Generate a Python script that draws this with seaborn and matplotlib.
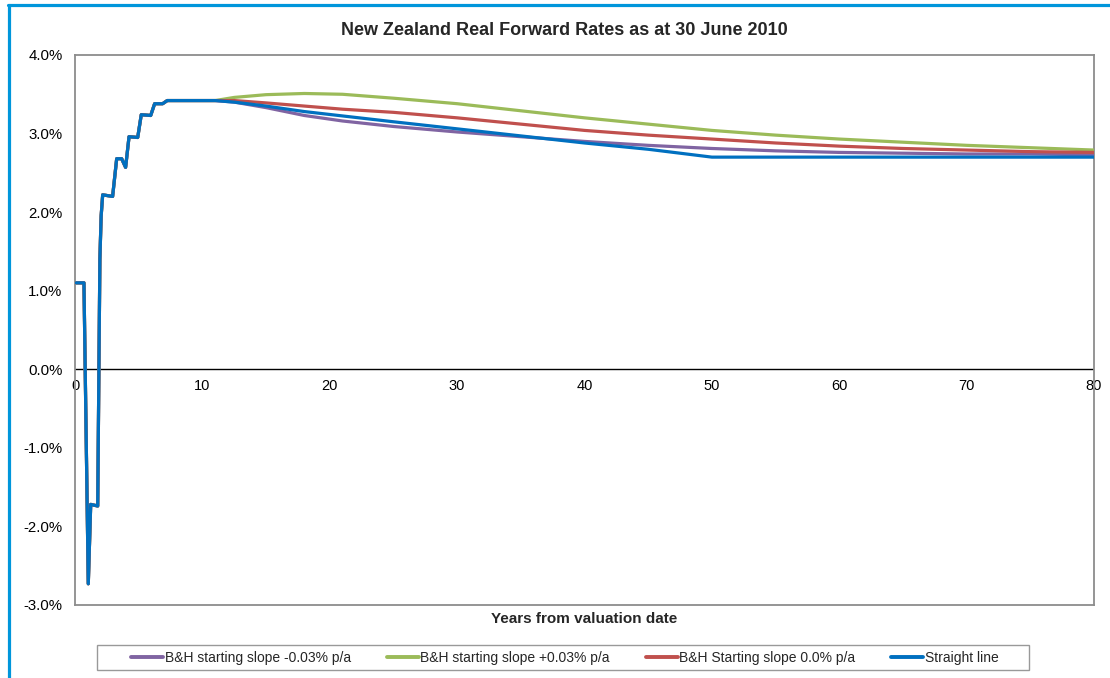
import numpy as np
import seaborn as sns
import pandas as pd
import matplotlib.pyplot as plt
from matplotlib.lines import Line2D
from matplotlib.patches import Rectangle
from matplotlib.ticker import FuncFormatter

# short end, shared by all four curves (years, % p.a.)
early_years = [0.1, 0.7, 1.04, 1.23, 1.78, 1.95, 2.05, 2.17, 2.95, 3.27, 3.66, 3.97,
               4.24, 4.92, 5.2, 5.94, 6.25, 6.88, 7.24]
early_rates = [1.10, 1.10, -2.73, -1.72, -1.74, 1.40, 1.95, 2.22, 2.20, 2.68, 2.68, 2.57,
               2.96, 2.95, 3.24, 3.23, 3.38, 3.38, 3.42]

# long end of each extrapolation
bh_years = [11, 12.5, 15, 18, 21, 25, 30, 35, 40, 45, 50, 55, 60, 65, 70, 75, 80]
bh_minus = [3.42, 3.40, 3.33, 3.23, 3.16, 3.09, 3.02, 2.96, 2.90, 2.85, 2.81, 2.78, 2.76, 2.75, 2.74, 2.74, 2.73]
bh_plus = [3.42, 3.46, 3.495, 3.51, 3.50, 3.45, 3.38, 3.29, 3.20, 3.12, 3.04, 2.98, 2.93, 2.89, 2.85, 2.82, 2.79]
bh_zero = [3.42, 3.42, 3.39, 3.35, 3.31, 3.27, 3.20, 3.12, 3.04, 2.98, 2.93, 2.88, 2.84, 2.81, 2.79, 2.77, 2.76]
sl_years = [11, 12.5, 15, 18, 25, 30, 35, 40, 45, 50, 80]
straight = [3.42, 3.40, 3.35, 3.28, 3.15, 3.06, 2.97, 2.88, 2.80, 2.70, 2.70]

series_names = ["B&H starting slope -0.03% p/a", "B&H starting slope +0.03% p/a",
                "B&H Starting slope 0.0% p/a", "Straight line"]
colors = ["#8064A2", "#9BBB59", "#C0504D", "#0070C0"]
x_ticks = [0, 10, 20, 30, 40, 50, 60, 70, 80]
y_ticks = [-3, -2, -1, 0, 1, 2, 3, 4]

frames = []
for name, xs, ys in [(series_names[0], bh_years, bh_minus),
                     (series_names[1], bh_years, bh_plus),
                     (series_names[2], bh_years, bh_zero),
                     (series_names[3], sl_years, straight)]:
    frames.append(pd.DataFrame({"years": early_years + xs,
                                "rate": early_rates + ys,
                                "series": name}))
df = pd.concat(frames, ignore_index=True)

sns.set_theme(style="white")
plt.rcParams['font.family'] = ['Liberation Sans', 'DejaVu Sans']

fig = plt.figure(figsize=(11.1, 6.78), dpi=100)
ax = fig.add_axes([0.0676, 0.1077, 0.918, 0.8112])

ax.axhline(0, color="black", lw=1.0, zorder=1)
sns.lineplot(data=df, x="years", y="rate", hue="series", hue_order=series_names,
             palette=colors, estimator=None, sort=False, lw=2.3, ax=ax, legend=False,
             zorder=3)

ax.set_xlim(x_ticks[0], x_ticks[-1])
ax.set_ylim(y_ticks[0], y_ticks[-1])
ax.set_yticks(y_ticks)
ax.yaxis.set_major_formatter(FuncFormatter(lambda v, p: f"{v:.1f}%"))
ax.tick_params(axis="y", length=0, pad=9, labelsize=10.8, labelcolor="black")
ax.set_xticks([])
ax.set_xlabel("Years from valuation date", fontsize=11, fontweight="bold", labelpad=5)
ax.set_ylabel("")
for sp in ax.spines.values():
    sp.set_color("#8c8c8c")
    sp.set_linewidth(1.3)

# year labels sit on the zero line
zero_pos = (0 - y_ticks[0]) / (y_ticks[-1] - y_ticks[0])
sec = ax.secondary_xaxis(zero_pos)
sec.set_xticks(x_ticks)
sec.tick_params(length=0, pad=7, labelsize=10.5, labelcolor="black")
sec.spines["bottom"].set_visible(False)

fig.suptitle("New Zealand Real Forward Rates as at 30 June 2010", x=0.508, y=0.968,
             fontsize=13, fontweight="bold")

handles = [Line2D([], [], color=c, lw=2.8) for c in colors]
leg = fig.legend(handles, series_names, loc="center", bbox_to_anchor=(0.509, 0.030),
                 ncol=4, fontsize=10, frameon=False, handlelength=2.3,
                 handletextpad=0.1, columnspacing=2.6, borderpad=0.4)
# legend frame, wider than the entries like the original
fig.add_artist(Rectangle((97 / 1110, 8 / 678), 932 / 1110, 25 / 678, fill=False,
                         edgecolor="#999999", lw=1.0))

# chart area border (left and top edges)
fig.add_artist(Line2D([0.0084, 0.0084], [0, 0.9926], color="#0096DB", lw=2.3))
fig.add_artist(Line2D([0.0075, 1.0], [0.9926, 0.9926], color="#0096DB", lw=2.3))

plt.savefig("out.png", dpi=100)
